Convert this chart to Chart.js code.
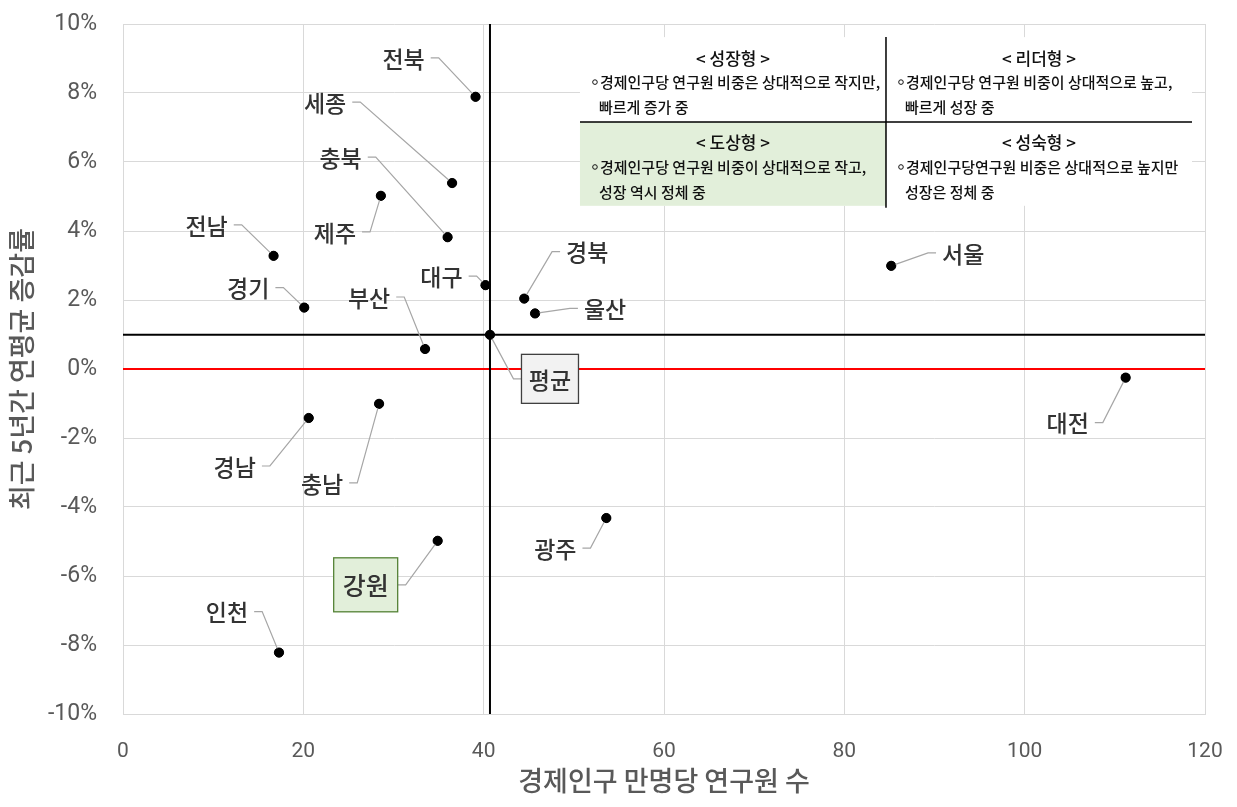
<!DOCTYPE html>
<html>
<head>
<meta charset="utf-8">
<script src="https://cdn.jsdelivr.net/npm/chart.js"></script>
<style>
  html, body { margin: 0; padding: 0; background: #fff; }
  #wrap { width: 1237px; height: 807px; }
</style>
</head>
<body>
<div id="wrap"><canvas id="myChart" width="1237" height="807"></canvas></div>
<script>
// Data
var regions = ['전북', '세종', '충북', '제주', '전남', '경기', '부산', '대구', '경북', '울산', '서울', '대전', '경남', '충남', '강원', '광주', '인천', '평균'];
var researchers = [39.1, 36.5, 36.0, 28.6, 16.7, 20.1, 33.5, 40.2, 44.5, 45.7, 85.2, 111.2, 20.6, 28.4, 34.9, 53.6, 17.3, 40.7];
var growth = [7.89, 5.39, 3.82, 5.02, 3.28, 1.78, 0.58, 2.43, 2.04, 1.61, 2.99, -0.25, -1.42, -1.01, -4.98, -4.32, -8.22, 0.99];

var avgResearchers = 40.7;
var avgGrowth = 0.99;

var xTicks = [0, 20, 40, 60, 80, 100, 120];
var yTicks = [-10, -8, -6, -4, -2, 0, 2, 4, 6, 8, 10];

// Label placement: [dx, dy, side of leader line] in pixels from the point
var labelPos = {
    '전북': [-72, -39, 'r'],
    '세종': [-127, -81, 'r'],
    '충북': [-107, -80, 'r'],
    '제주': [-46, 36, 'r'],
    '전남': [-67, -31, 'r'],
    '경기': [-56, -20, 'r'],
    '부산': [-56, -52, 'r'],
    '대구': [-44, -9, 'r'],
    '경북': [63, -47, 'l'],
    '울산': [70, -5, 'l'],
    '서울': [72, -13, 'l'],
    '대전': [-58, 45, 'r'],
    '경남': [-74, 48, 'r'],
    '충남': [-57, 79, 'r'],
    '강원': [-72, 44, 'r'],
    '광주': [-51, 30, 'r'],
    '인천': [-52, -41, 'r'],
    '평균': [60, 44, 'l']
};

// boxed labels
var boxStyle = {
    '평균': { w: 57, h: 49, fill: '#f2f2f2', stroke: '#404040', font: '500 23px "Noto Sans CJK KR"' },
    '강원': { w: 64, h: 54, fill: '#e2efda', stroke: '#548235', font: '500 25px "Noto Sans CJK KR"' }
};

// quadrant description table
var quadrants = [
    { title: '< 성장형 >', lines: ['경제인구당 연구원 비중은 상대적으로 작지만,', '빠르게 증가 중'], fill: null },
    { title: '< 리더형 >', lines: ['경제인구당 연구원 비중이 상대적으로 높고,', '빠르게 성장 중'], fill: null },
    { title: '< 도상형 >', lines: ['경제인구당 연구원 비중이 상대적으로 작고,', '성장 역시 정체 중'], fill: '#e2efda' },
    { title: '< 성숙형 >', lines: ['경제인구당연구원 비중은 상대적으로 높지만', '성장은 정체 중'], fill: null }
];

var points = regions.map(function(r, i) { return { x: researchers[i], y: growth[i] }; });

var annotPlugin = {
    id: 'annot',
    afterDatasetsDraw: function(chart) {
        var ctx = chart.ctx;
        var xs = chart.scales.x, ys = chart.scales.y;
        ctx.save();

        // quadrant table
        var L = xs.getPixelForValue(50.68), M = xs.getPixelForValue(84.62), R = xs.getPixelForValue(118.56);
        var T = ys.getPixelForValue(9.62), H = ys.getPixelForValue(7.16), B = ys.getPixelForValue(4.73);
        ctx.fillStyle = '#fff';
        ctx.fillRect(L, T, R - L, B - T);
        var cells = [[L, T, M, H], [M, T, R, H], [L, H, M, B], [M, H, R, B]];
        quadrants.forEach(function(q, i) {
            var c = cells[i];
            if (q.fill) {
                ctx.fillStyle = q.fill;
                ctx.fillRect(c[0], c[1], c[2] - c[0], c[3] - c[1]);
            }
            ctx.fillStyle = '#111';
            ctx.textBaseline = 'middle';
            ctx.textAlign = 'center';
            ctx.font = '500 17px "Noto Sans CJK KR"';
            ctx.fillText(q.title, (c[0] + c[2]) / 2, c[1] + 21);
            ctx.textAlign = 'left';
            ctx.font = '500 15px "Noto Sans CJK KR"';
            ctx.beginPath();
            ctx.arc(c[0] + 15, c[1] + 45, 2.3, 0, Math.PI * 2);
            ctx.strokeStyle = '#111';
            ctx.lineWidth = 1;
            ctx.stroke();
            ctx.fillText(q.lines[0], c[0] + 20, c[1] + 45, c[2] - c[0] - 24);
            ctx.fillText(q.lines[1], c[0] + 19, c[1] + 70);
        });
        ctx.strokeStyle = '#000';
        ctx.lineWidth = 1.5;
        ctx.beginPath();
        ctx.moveTo(M, T); ctx.lineTo(M, B + 2);
        ctx.moveTo(L, H); ctx.lineTo(R, H);
        ctx.stroke();

        // data labels with leader lines
        var meta = chart.getDatasetMeta(0);
        meta.data.forEach(function(el, i) {
            var name = regions[i];
            var o = labelPos[name];
            var lx = el.x + o[0], ly = el.y + o[1];
            var box = boxStyle[name];
            ctx.font = box ? box.font : '500 23px "Noto Sans CJK KR"';
            var tw = ctx.measureText(name).width;
            var half = box ? box.w / 2 : tw / 2 + 6;
            var sx = o[2] === 'r' ? lx + half : lx - half;
            var ex = o[2] === 'r' ? sx + 8 : sx - 8;
            ctx.strokeStyle = '#a6a6a6';
            ctx.lineWidth = 1.2;
            ctx.beginPath();
            ctx.moveTo(sx, ly);
            ctx.lineTo(ex, ly);
            ctx.lineTo(el.x, el.y);
            ctx.stroke();
            if (box) {
                ctx.fillStyle = box.fill;
                ctx.fillRect(lx - box.w / 2, ly - box.h / 2, box.w, box.h);
                ctx.strokeStyle = box.stroke;
                ctx.lineWidth = 1.3;
                ctx.strokeRect(lx - box.w / 2, ly - box.h / 2, box.w, box.h);
            }
            ctx.fillStyle = '#333';
            ctx.textAlign = 'center';
            ctx.textBaseline = 'middle';
            ctx.fillText(name, lx, ly + 1);
        });

        // redraw the points on top of leader lines
        meta.data.forEach(function(el) {
            ctx.fillStyle = '#000';
            ctx.beginPath();
            ctx.arc(el.x, el.y, 4.6, 0, Math.PI * 2);
            ctx.fill();
        });
        ctx.restore();
    }
};

// drop the automatic label overflow padding so layout.padding sets the plot edges
function noPad(scale) {
    scale.paddingTop = 0;
    scale.paddingBottom = 0;
    scale.paddingLeft = 0;
    scale.paddingRight = 0;
}

var ctx = document.getElementById('myChart').getContext('2d');

var data = {
    datasets: [{
        type: 'scatter',
        label: '지역',
        data: points,
        backgroundColor: '#000',
        borderColor: '#000',
        pointRadius: 4.6,
        order: 0
    }, {
        type: 'line',
        label: '평균 증감률',
        data: [{ x: 0, y: avgGrowth }, { x: 120, y: avgGrowth }],
        borderColor: '#000',
        borderWidth: 2,
        pointRadius: 0,
        order: 2
    }, {
        type: 'line',
        label: '평균 연구원 수',
        data: [{ x: avgResearchers, y: -10 }, { x: avgResearchers, y: 10 }],
        borderColor: '#000',
        borderWidth: 2,
        pointRadius: 0,
        order: 2
    }, {
        type: 'line',
        label: '0%',
        data: [{ x: 0, y: 0 }, { x: 120, y: 0 }],
        borderColor: '#ff0000',
        borderWidth: 2,
        pointRadius: 0,
        order: 3
    }]
};

var options = {
    responsive: false,
    animation: false,
    layout: {
        padding: { top: 24, right: 32, left: 0, bottom: 0 }
    },
    plugins: {
        legend: { display: false },
        tooltip: { enabled: false }
    },
    scales: {
        x: {
            type: 'linear',
            min: 0,
            max: 120,
            afterBuildTicks: function(scale) {
                scale.ticks = xTicks.map(function(v) { return { value: v }; });
            },
            afterFit: function(scale) { scale.height = 93; noPad(scale); },
            grid: { color: '#d9d9d9', lineWidth: 1, drawTicks: false },
            border: { color: '#d9d9d9' },
            ticks: {
                padding: 25,
                color: '#595959',
                font: { family: 'Roboto', size: 21 }
            },
            title: {
                display: true,
                text: '경제인구 만명당 연구원 수',
                color: '#595959',
                font: { family: '"Noto Sans CJK KR"', size: 27, weight: '500' },
                padding: { top: 0, bottom: 10 }
            }
        },
        y: {
            type: 'linear',
            min: -10,
            max: 10,
            afterBuildTicks: function(scale) {
                scale.ticks = yTicks.map(function(v) { return { value: v }; });
            },
            afterFit: function(scale) { scale.width = 123; noPad(scale); },
            grid: { color: '#d9d9d9', lineWidth: 1, drawTicks: false },
            border: { color: '#d9d9d9' },
            ticks: {
                padding: 26,
                color: '#595959',
                font: { family: 'Roboto', size: 23 },
                callback: function(value) { return value + '%'; }
            },
            title: {
                display: true,
                text: '최근 5년간 연평균 증감률',
                color: '#595959',
                font: { family: '"Noto Sans CJK KR"', size: 27, weight: '500' },
                padding: { top: 6, bottom: 0 }
            }
        }
    }
};

var myChart = new Chart(ctx, {
    type: 'scatter',
    data: data,
    options: options,
    plugins: [annotPlugin]
});
</script>
</body>
</html>
